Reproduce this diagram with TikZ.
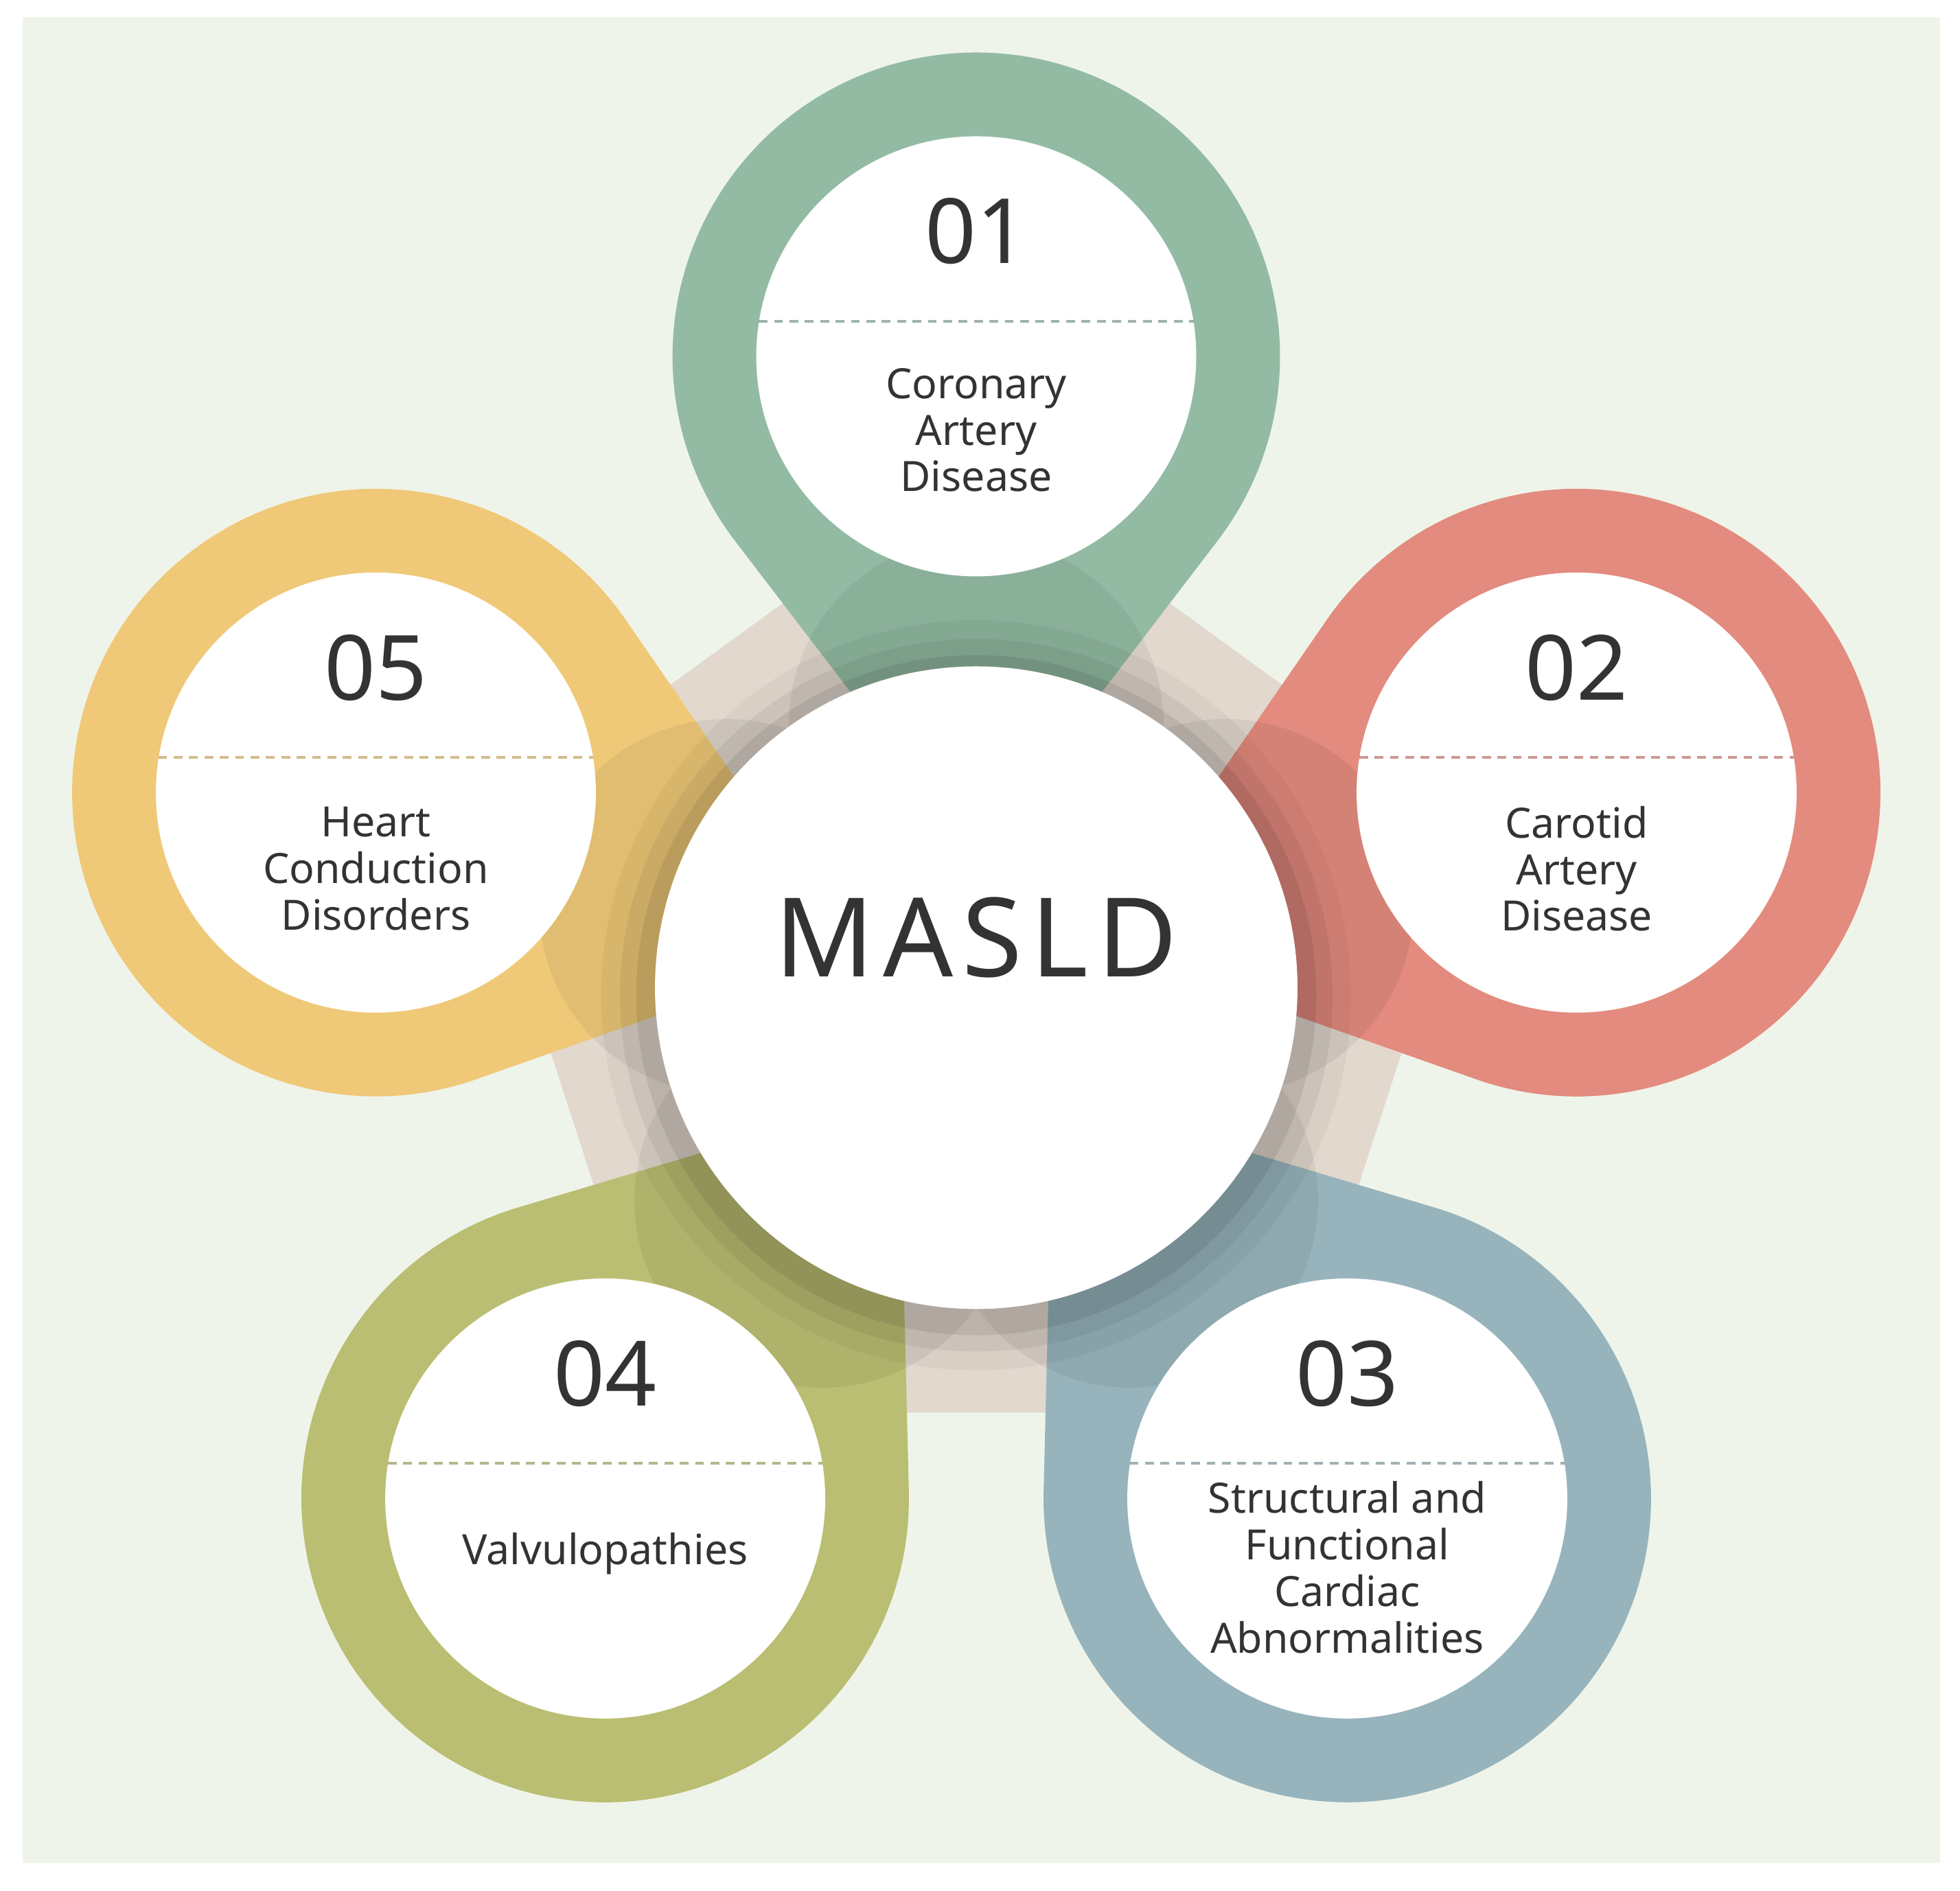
\documentclass[tikz,border=0pt]{standalone}
\usepackage{fontspec}
\setmainfont{Noto Sans}
\usetikzlibrary{calc}
\definecolor{bg}{HTML}{EFF4EA}
\definecolor{pent}{HTML}{E2D8CE}
\definecolor{cA}{HTML}{93BBA4}
\definecolor{cB}{HTML}{E38B7E}
\definecolor{cC}{HTML}{97B4BC}
\definecolor{cD}{HTML}{BABE72}
\definecolor{cE}{HTML}{EFC978}
\definecolor{txt}{HTML}{333333}
\tikzset{
  inner/.style={circle,fill=white,minimum size=352*0.02cm,inner sep=0},
  num/.style={text=txt,font=\fontsize{41}{46}\selectfont},
  lab/.style={text=txt,align=center,font=\fontsize{19}{21.2}\selectfont},
}
\begin{document}
\begin{tikzpicture}[x=0.02cm,y=0.02cm]
\useasboundingbox (-781,-722) rectangle (787,790);
\fill[white] (-781,-722) rectangle (787,790);
\fill[bg] (-763,-700) rectangle (771,776);
\fill[pent] (90:420) -- (162:420) -- (234:420) -- (306:420) -- (18:420) -- cycle;
% teardrops
\foreach \a/\c in {90/cA,18/cB,-54/cC,-126/cD,162/cE}{
  \fill[\c] (\a:505) ++(\a+232.6:243) arc[start angle=\a+232.6,end angle=\a+487.4,radius=243] -- (\a:105) -- cycle;
  \fill[black,opacity=0.06] (\a:210) circle[radius=150];
}
% center
\foreach \r/\o in {300/0.04,285/0.06,272/0.08}{\fill[black,opacity=\o] (0,-6) circle[radius=\r];}
\node[circle,fill=white,minimum size=514*0.02cm,inner sep=0] (m) at (0,0) {};
\node[text=txt,font=\fontsize{50}{56}\selectfont\bfseries\addfontfeatures{LetterSpace=8}] (mt) at (0,40) {MASLD};
% inner circles
\foreach \a/\c/\n/\l/\ly [count=\i] in {
  90/cA/01/{Coronary\\Artery\\Disease}/-59,
  18/cB/02/{Carotid\\Artery\\Disease}/-61,
  -54/cC/03/{Structural and\\Functional\\Cardiac\\Abnormalities}/-55,
  -126/cD/04/{Valvulopathies}/-44,
  162/cE/05/{Heart\\Conduction\\Disorders}/-61}{
  \node[inner] (c\i) at (\a:505) {};
  \node[num] (n\i) at ($(c\i)+(0,100)$) {\n};
  \draw[\c!80!black,opacity=0.7,dashed,line width=1.2pt,dash pattern=on 4pt off 3pt] ($(c\i)+(-174,28)$) -- ($(c\i)+(174,28)$);
  \node[lab] (l\i) at ($(c\i)+(0,\ly)$) {\l};
}
\end{tikzpicture}
\end{document}
